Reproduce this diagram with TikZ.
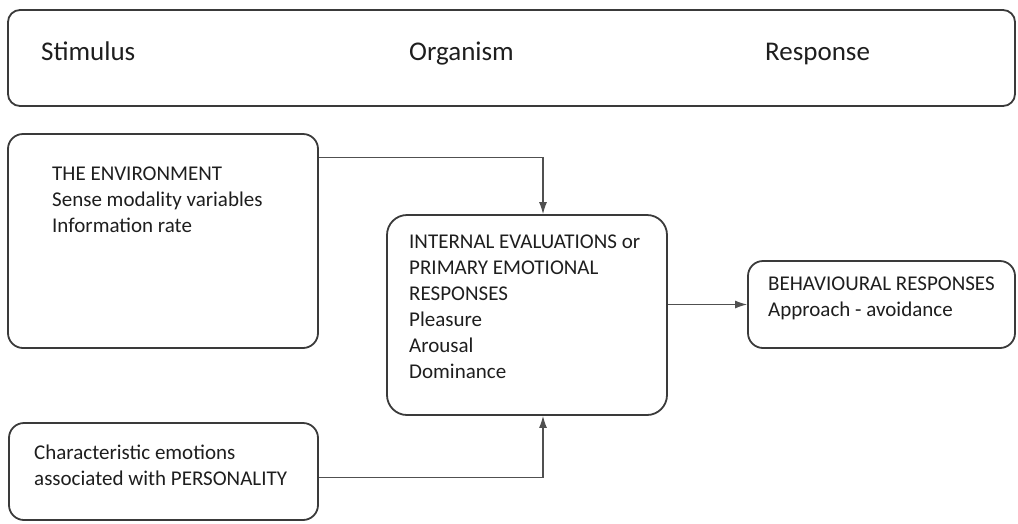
\documentclass[tikz,border=0pt]{standalone}
\usepackage{fontspec}
\setmainfont{Carlito}
\usetikzlibrary{positioning, calc, arrows.meta}
\definecolor{boxgray}{HTML}{3A3A3A}
\definecolor{linegray}{HTML}{505050}
\definecolor{textgray}{HTML}{1E1E1E}
\begin{document}
\begin{tikzpicture}[x=1pt,y=-1pt,
    box/.style={draw=boxgray, line width=1.8pt, rounded corners=#1, inner sep=0pt},
    box/.default=15pt,
    txt/.style={text=textgray, font=\fontsize{21}{26}\selectfont, align=left, inner sep=0pt, anchor=north west},
    head/.style={text=textgray, font=\fontsize{27}{32}\selectfont, inner sep=0pt, anchor=base west},
    arr/.style={draw=linegray, line width=1.2pt, -{Latex[length=12pt,width=8pt]}}]
  \useasboundingbox (0,0) rectangle (1018,523);
  % boxes
  \node[box=12pt, minimum width=1007pt, minimum height=96pt] (header) at (511.5,58) {};
  \node[box, minimum width=310pt, minimum height=214pt] (env) at (163,241) {};
  \node[box, minimum width=309pt, minimum height=97pt] (pers) at (163.5,471.5) {};
  \node[box=20pt, minimum width=280pt, minimum height=200pt] (eval) at (527,315) {};
  \node[box, minimum width=267pt, minimum height=87pt] (behav) at (881.5,304.5) {};
  % texts
  \node[head] (stim) at (41,60) {Stimulus};
  \node[head] (org) at (409,60) {Organism};
  \node[head] (resp) at (765,60) {Response};
  \node[txt] (envtxt) at (52,167) {THE ENVIRONMENT\\Sense modality variables\\Information rate};
  \node[txt] (evaltxt) at (409,235) {INTERNAL EVALUATIONS or\\PRIMARY EMOTIONAL\\RESPONSES\\Pleasure\\Arousal\\Dominance};
  \node[txt] (perstxt) at (34,445) {Characteristic emotions\\associated with PERSONALITY};
  \node[txt] (behavtxt) at (768,277) {BEHAVIOURAL RESPONSES\\Approach - avoidance};
  % connectors
  \draw[arr] ([yshift=-24pt]env.north east) -| ([xshift=16pt]eval.north);
  \draw[arr] (eval.east |- behav.west) -- (behav.west);
  \draw[arr] ([yshift=-6pt]pers.east) -| ([xshift=16pt]eval.south);
\end{tikzpicture}
\end{document}
